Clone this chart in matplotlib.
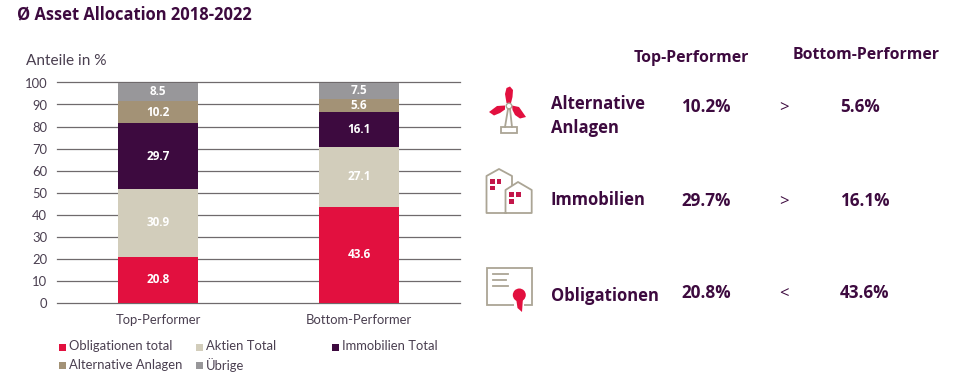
import matplotlib
matplotlib.use('Agg')
import matplotlib.pyplot as plt
from matplotlib.patches import Polygon, Rectangle, Circle, Ellipse

plt.rcParams['font.family'] = ['Open Sans', 'DejaVu Sans']
DUENN = ['Lato', 'DejaVu Sans']

# Daten
kategorien = ['Top-Performer', 'Bottom-Performer']
obligationen = [20.8, 43.6]
aktien = [30.9, 27.1]
immobilien = [29.7, 16.1]
alternative = [10.2, 5.6]
uebrige = [8.5, 7.5]
serien = ['Obligationen total', 'Aktien Total', 'Immobilien Total', 'Alternative Anlagen', 'Übrige']
y_ticks = [0, 10, 20, 30, 40, 50, 60, 70, 80, 90, 100]

# Tabelle rechts
zeilen = ['Alternative\nAnlagen', 'Immobilien', 'Obligationen']
top_werte = ['10.2%', '29.7%', '20.8%']
zeichen = ['>', '>', '<']
bottom_werte = ['5.6%', '16.1%', '43.6%']

ROT = '#e2103f'
BEIGE = '#d2cdbb'
LILA = '#3d0a3f'
BRAUN = '#a39276'
GRAU = '#98979a'
TEXT = '#4a3f50'
LINIE = '#aba595'

W, H = 960, 377
fig = plt.figure(figsize=(9.6, 3.77), dpi=100)

ax = fig.add_axes([57 / W, 1 - 302.5 / H, 403 / W, 220 / H])
farben = [ROT, BEIGE, LILA, BRAUN, GRAU]
werte = [obligationen, aktien, immobilien, alternative, uebrige]
unten = [0, 0]
x = range(len(kategorien))
for name, v, farbe in zip(serien, werte, farben):
    bars = ax.bar(x, v, 0.398, bottom=unten, color=farbe, label=name, zorder=3)
    for b, val, u in zip(bars, v, unten):
        ax.text(b.get_x() + b.get_width() / 2, u + val / 2, f'{val:.1f}', ha='center', va='center',
                color='white', fontsize=8.5, fontweight='bold', zorder=4)
    unten = [a + b for a, b in zip(unten, v)]

ax.set_xlim(-0.5025, 1.5025)
ax.set_ylim(0, 100)
ax.set_yticks(y_ticks)
ax.set_xticks(list(x))
ax.set_xticklabels(kategorien, family=DUENN)
ax.set_yticklabels([str(t) for t in y_ticks], family=DUENN)
ax.tick_params(axis='both', length=0, labelcolor=TEXT, labelsize=9.4)
ax.tick_params(axis='y', pad=7)
ax.tick_params(axis='x', pad=8)
ax.grid(axis='y', color='#6f6a6c', linewidth=0.9, zorder=1)
ax.set_axisbelow(True)
for s in ax.spines.values():
    s.set_visible(False)
for g in ax.get_ygridlines():
    g.set_clip_on(False)

# Overlay in Pixelkoordinaten fuer Texte und Icons
ov = fig.add_axes([0, 0, 1, 1], zorder=5)
ov.set_xlim(0, W)
ov.set_ylim(H, 0)
ov.axis('off')
ov.patch.set_alpha(0)

ov.text(17, 14, 'Ø Asset Allocation 2018-2022', fontsize=11.9, fontweight='bold', color=LILA, va='center')
ov.text(26, 61, 'Anteile in %', fontsize=11.1, color=TEXT, va='center', family=DUENN)

# Legende
leg = [(59, 347), (196, 347), (332, 347), (59, 365.5), (196, 365.5)]
for (lx, ly), name, farbe in zip(leg, serien, farben):
    ov.add_patch(Rectangle((lx, ly - 3.5), 7, 7, color=farbe, lw=0))
    ov.text(lx + 10, ly - 0.5, name, fontsize=9.4, color=TEXT, va='center', family=DUENN)

# Tabelle
ov.text(691.5, 58, 'Top-Performer', fontsize=11.4, fontweight='bold', color=LILA, ha='center', va='center')
ov.text(866.5, 55, 'Bottom-Performer', fontsize=11.4, fontweight='bold', color=LILA, ha='center', va='center')
label_y = [116, 200, 296]
wert_y = [107, 201, 293]
for z, tw, s, bw, ly, wy in zip(zeilen, top_werte, zeichen, bottom_werte, label_y, wert_y):
    ov.text(551, ly, z, fontsize=12, fontweight='bold', color=LILA, va='center', linespacing=1.42)
    ov.text(681, wy, tw, fontsize=12.3, fontweight='bold', color=LILA, va='center')
    ov.text(784, wy + 1, s, fontsize=12, color=LILA, ha='center', va='center')
    ov.text(840, wy, bw, fontsize=12.3, fontweight='bold', color=LILA, va='center')

# Icon Windrad
ov.plot([505, 508, 510, 512], [127, 109, 109, 127], color=LINIE, lw=1.3)
ov.add_patch(Rectangle((501, 127), 16, 5.5, fill=False, ec=LINIE, lw=1.3))
ov.add_patch(Polygon([(506.5, 103), (505, 94), (506.5, 88), (510, 86.5), (513, 90), (512.5, 97), (511, 103)], color=ROT, lw=0))
ov.add_patch(Polygon([(505, 105.5), (497, 106), (489, 112), (494, 115.5), (500, 113), (505, 109.5)], color=ROT, lw=0))
ov.add_patch(Polygon([(512, 105.5), (519, 107), (526, 117), (520, 118.5), (515, 115), (512.5, 110)], color=ROT, lw=0))
ov.add_patch(Circle((509, 106), 2.8, fc='white', ec=LINIE, lw=1))

# Icon Haeuser
ov.plot([505.5, 486.5, 486.5, 499, 512, 512], [213, 213, 176, 169, 176, 185], color=LINIE, lw=1.3)
ov.plot([505.5, 505.5, 518, 531.7, 531.7, 505.5], [213, 190, 182, 190, 213, 213], color=LINIE, lw=1.3)
for fx, fy in [(490, 179), (496.7, 179), (490, 185.7), (509.3, 192.3), (516, 192.3), (509.3, 199.3)]:
    ov.add_patch(Rectangle((fx, fy), 4.5, 4.5, color='#c3164a', lw=0))

# Icon Urkunde
ov.add_patch(Rectangle((486.7, 267.7), 45, 37.3, fill=False, ec=LINIE, lw=1.3))
for ly, lx2 in [(274.3, 508.3), (280.3, 506), (286.3, 508.3)]:
    ov.plot([492.7, lx2], [ly, ly], color=LINIE, lw=1.3)
ov.add_patch(Rectangle((514, 303), 10, 5, color='white', lw=0))
ov.add_patch(Polygon([(516, 298), (523, 298), (522, 312), (517.5, 308)], color=ROT, lw=0))
ov.add_patch(Ellipse((519.3, 295), 13, 13, color=ROT, lw=0))

fig.savefig('out.png', dpi=100, facecolor='white')
